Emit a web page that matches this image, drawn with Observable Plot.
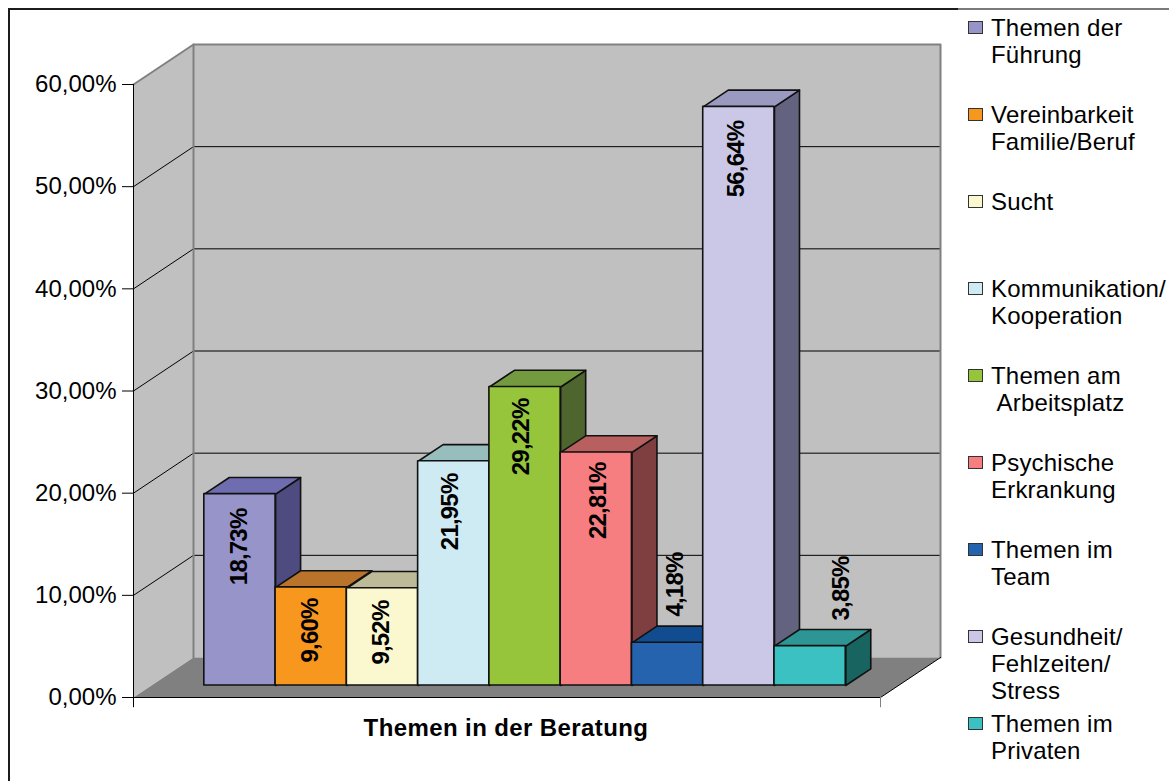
<!DOCTYPE html>
<html lang="de">
<head>
<meta charset="utf-8">
<script src="https://cdn.jsdelivr.net/npm/d3@7"></script>
<script src="https://cdn.jsdelivr.net/npm/@observablehq/plot@0.6"></script>
<style>
  html, body { margin: 0; padding: 0; background: #fff; }
  #page { position: relative; width: 1169px; height: 781px; overflow: hidden; font-family: "Liberation Sans", Arial, sans-serif; }
  #page svg { position: absolute; left: 0; top: 0; background: transparent; }
  .frame-top-a { position: absolute; left: 8px; top: 8px; width: 950px; height: 2px; background: #1c1c1c; }
  .frame-top-b { position: absolute; left: 958px; top: 8px; width: 211px; height: 2px; background: #7a7a7a; }
  .frame-left { position: absolute; left: 8px; top: 8px; width: 2px; height: 773px; background: #1c1c1c; }
  #legend { position: absolute; left: 968px; top: 14px; }
  .item { position: relative; height: 87px; padding-left: 23px; font-size: 24px; line-height: 27px; letter-spacing: 0.2px; color: #000; white-space: pre; }
  .swatch { position: absolute; left: 0; top: 7px; width: 13px; height: 11px; border: 1.5px solid #333; }
</style>
</head>
<body>
<div id="page"></div>
<script>
const categories = ["Themen der\nFührung", "Vereinbarkeit\nFamilie/Beruf", "Sucht", "Kommunikation/\nKooperation", "Themen am\n Arbeitsplatz", "Psychische\nErkrankung", "Themen im\nTeam", "Gesundheit/\nFehlzeiten/\nStress", "Themen im\nPrivaten"];
const values = [18.73, 9.60, 9.52, 21.95, 29.22, 22.81, 4.18, 56.64, 3.85];
const frontColors = ["#9794C9", "#F7971D", "#FBF7CE", "#CEEAF2", "#96C43B", "#F67D80", "#2563AE", "#CAC8E6", "#3CC1C2"];
const topColors = ["#6F6DB0", "#B9732A", "#BDBB97", "#98BDBD", "#739A3F", "#B86060", "#124C90", "#9A99BF", "#2D9694"];
const sideColors = ["#4D4B80", "#7A4E1C", "#7E7C64", "#647E7F", "#4F652E", "#7F3F41", "#0C3360", "#63637F", "#186461"];
const yTicks = [0, 10, 20, 30, 40, 50, 60];
const axisTitle = "Themen in der Beratung";

// Oblique projection of the chart's box: depth z runs 0 (front) to 1 (back wall).
const xWidth = 10.481, barStart = 0.741, depthX = 0.842, depthY = 3.915;
const zFront = 0.3, zBack = 0.7167;
const P = (x, y, z) => ({x: x + z * depthX, y: y + z * depthY});
const poly = pts => pts.map(([x, y, z]) => P(x, y, z));

const wallSide = poly([[0,0,0],[0,60,0],[0,60,1],[0,0,1],[0,0,0]]);
const wallBack = poly([[0,0,1],[xWidth,0,1],[xWidth,60,1],[0,60,1],[0,0,1]]);
const floor = poly([[0,0,0],[xWidth,0,0],[xWidth,0,1],[0,0,1],[0,0,0]]);

const fmt = v => v.toFixed(2).replace(".", ",") + "%";

// Hand placement of the data labels, as in the original chart (pixels).
const labelDx = [-0.6, -1.2, -0.8, -3.7, -3.3, 1.7, 7.5, -2.1, 31];
const labelDy = [14.4, 11, 12.3, 12.3, 11.6, 10, -90.3, 13.9, -89.7];

const barMarks = values.flatMap((v, i) => {
  const x0 = barStart + i, x1 = x0 + 1;
  const front = [P(x0, 0, zFront), P(x1, v, zFront)];
  const face = {stroke: "#111", strokeWidth: 1.6, strokeLinejoin: "round"};
  return [
    Plot.line(poly([[x1,0,zFront],[x1,0,zBack],[x1,v,zBack],[x1,v,zFront],[x1,0,zFront]]), {x: "x", y: "y", fill: sideColors[i], ...face}),
    Plot.line(poly([[x0,v,zFront],[x0,v,zBack],[x1,v,zBack],[x1,v,zFront],[x0,v,zFront]]), {x: "x", y: "y", fill: topColors[i], ...face}),
    Plot.rect([{v}], {x1: () => front[0].x, x2: () => front[1].x, y1: () => front[0].y, y2: () => front[1].y, fill: frontColors[i], ...face})
  ];
});

const labelMarks = values.map((v, i) => {
  const c = P(barStart + i + 0.5, v, zFront);
  return Plot.text([v], {
    x: () => c.x, y: () => c.y, text: fmt, rotate: -90, textAnchor: "end", lineAnchor: "middle",
    dx: labelDx[i], dy: labelDy[i], fontSize: 24, fontWeight: "bold", fill: "#000"
  });
});

const grid = yTicks.filter(t => t > 0 && t < 60).map(t =>
  Plot.line(poly([[0,t,0],[0,t,1],[xWidth,t,1]]), {x: "x", y: "y", stroke: "#000", strokeWidth: 1}));

const chart = Plot.plot({
  width: 1169, height: 781,
  marginLeft: 133, marginRight: 289, marginTop: 84, marginBottom: 84,
  style: {background: "transparent", fontFamily: '"Liberation Sans", Arial, sans-serif'},
  x: {domain: [0, xWidth], axis: null},
  y: {domain: [0, 60], axis: null},
  marks: [
    Plot.line(wallSide, {x: "x", y: "y", fill: "#C0C0C0", stroke: "none"}),
    Plot.line(wallBack, {x: "x", y: "y", fill: "#C0C0C0", stroke: "none"}),
    Plot.line(floor, {x: "x", y: "y", fill: "#808080", stroke: "none"}),
    ...grid,
    Plot.line(poly([[0,60,0],[0,60,1],[xWidth,60,1],[xWidth,0,1]]), {x: "x", y: "y", stroke: "#808080", strokeWidth: 2}),
    Plot.line(poly([[0,0,1],[0,60,1]]), {x: "x", y: "y", stroke: "#808080", strokeWidth: 2}),
    Plot.line(poly([[0,0,0],[xWidth,0,0],[xWidth,0,1]]), {x: "x", y: "y", stroke: "#000", strokeWidth: 1}),
    Plot.ruleX([0], {y1: 60, y2: -1, stroke: "#000", strokeWidth: 1}),
    Plot.ruleX([xWidth], {y1: 0, y2: -1, stroke: "#808080", strokeWidth: 1}),
    Plot.axisY({ticks: yTicks, tickSize: 11, tickPadding: 6, fontSize: 24, stroke: "#000", fill: "#000", tickFormat: fmt, label: null, strokeOpacity: 1}),
    ...barMarks,
    ...labelMarks,
    Plot.text([axisTitle], {frameAnchor: "bottom", lineAnchor: "middle", dx: -1, dy: 31, fontSize: 24, fontWeight: "bold", fill: "#000"})
  ]
});

// Letter spacing of the rotated labels and the axis title.
const textGroups = [...chart.querySelectorAll('g[aria-label="text"]')];
textGroups.forEach((g, i) => {
  g.style.letterSpacing = i === textGroups.length - 1 ? "0.4px" : "-0.8px";
});

const page = document.getElementById("page");
page.appendChild(chart);
for (const c of ["frame-top-a", "frame-top-b", "frame-left"]) {
  const d = document.createElement("div"); d.className = c; page.appendChild(d);
}
const legend = document.createElement("div");
legend.id = "legend";
categories.forEach((label, i) => {
  const item = document.createElement("div");
  item.className = "item";
  item.textContent = label;
  const sw = document.createElement("span");
  sw.className = "swatch";
  sw.style.background = frontColors[i];
  item.prepend(sw);
  legend.appendChild(item);
});
page.appendChild(legend);
</script>
</body>
</html>
